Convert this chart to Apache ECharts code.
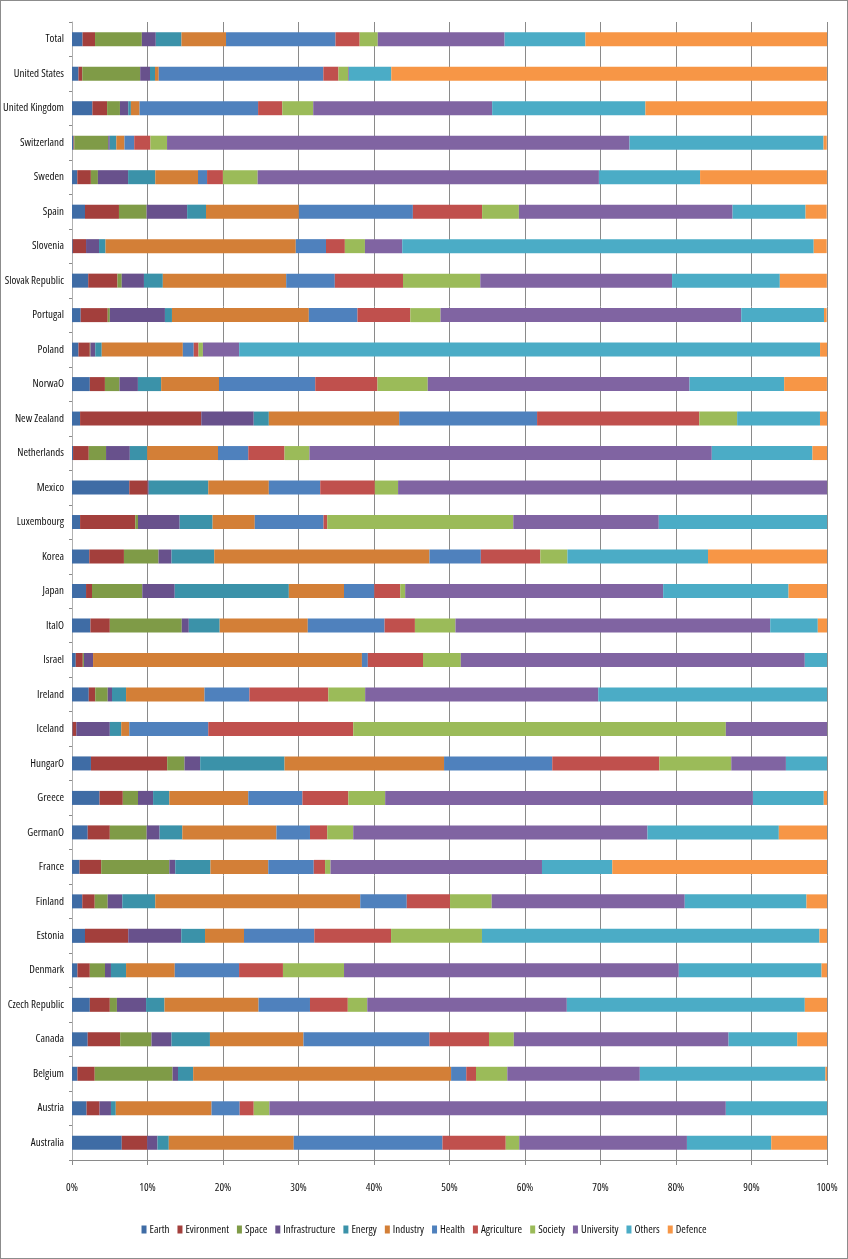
<!DOCTYPE html>
<html><head><meta charset="utf-8">
<script src="https://cdn.jsdelivr.net/npm/echarts@6/dist/echarts.min.js"></script>
<style>html,body{margin:0;padding:0;background:#fff}#c{width:846px;height:1257px;border:1px solid #8c8c8c}</style>
</head><body><div id="c"></div>
<script>
const categories = ["Total","United States","United Kingdom","Switzerland","Sweden","Spain","Slovenia","Slovak Republic","Portugal","Poland","NorwaO","New Zealand","Netherlands","Mexico","Luxembourg","Korea","Japan","ItalO","Israel","Ireland","Iceland","HungarO","Greece","GermanO","France","Finland","Estonia","Denmark","Czech Republic","Canada","Belgium","Austria","Australia"];
const tickLabels = ["0%","10%","20%","30%","40%","50%","60%","70%","80%","90%","100%"];
const seriesNames = ["Earth","Evironment","Space","Infrastructure","Energy","Industry","Health","Agriculture","Society","University","Others","Defence"];
const earth = [1.4,0.86,2.7,0.2,0.7,1.72,0.1,2.15,1.15,0.86,2.36,1.07,0.14,7.59,1.07,2.29,1.86,2.44,0.5,2.22,0.07,2.51,3.65,2.08,1.0,1.36,1.72,0.72,2.36,2.08,0.72,1.93,6.59];
const evironment = [1.65,0.5,1.95,0.1,1.8,4.5,1.76,3.87,3.58,1.5,2.0,16.05,2.08,2.44,7.31,4.59,0.79,2.57,0.93,0.86,0.5,10.1,3.08,2.93,2.87,1.65,5.73,1.64,2.65,4.3,2.29,1.72,3.37];
const space = [6.2,7.67,1.7,4.5,0.93,3.66,0,0.57,0.28,0.08,1.93,0,2.29,0,0.36,4.58,6.66,9.53,0.15,1.65,0,2.29,2.01,4.88,9.02,1.72,0,2.01,0.94,4.15,10.31,0,0];
const infrastructure = [1.85,1.3,1.1,0.2,4.0,5.37,1.72,2.94,7.3,0.64,2.44,6.95,3.15,0.14,5.52,1.72,4.3,0.93,1.21,0.57,4.44,2.08,2.0,1.71,0.79,1.93,7.02,0.79,3.86,2.65,0.72,1.51,1.36];
const energy = [3.4,0.66,0.35,0.87,3.6,2.5,0.86,2.5,0.93,0.86,3.08,2.0,2.3,7.88,4.36,5.66,15.11,4.09,0,1.86,1.51,11.17,2.15,3.01,4.66,4.37,3.15,2.0,2.44,5.09,2.01,0.64,1.5];
const industry = [5.9,0.5,1.15,1.08,5.66,12.3,25.2,16.34,18.13,10.74,7.66,17.27,9.38,8.02,5.59,28.51,7.31,11.67,35.61,10.39,1.07,21.13,10.46,12.47,7.66,27.15,5.16,6.45,12.46,12.39,34.16,12.68,16.55];
const health = [14.5,21.8,15.7,1.29,1.2,15.1,4.0,6.44,6.44,1.44,12.75,18.26,4.01,6.81,9.1,6.8,4.01,10.17,0.78,5.95,10.46,14.33,7.17,4.44,6.02,6.16,9.31,8.52,6.81,16.69,2.01,3.73,19.7];
const agriculture = [3.2,2.0,3.2,2.15,2.1,9.17,2.5,9.03,7.0,0.64,8.24,21.49,4.8,7.23,0.5,7.88,3.44,4.02,7.31,10.45,19.2,14.18,6.08,2.29,1.5,5.73,10.17,5.81,5.01,7.88,1.29,1.86,8.38];
const society = [2.4,1.3,4.1,2.2,4.6,4.87,2.66,10.24,4.0,0.58,6.66,5.01,3.3,3.08,24.64,3.59,0.65,5.37,5.01,4.88,49.35,9.53,4.88,3.44,0.72,5.52,12.04,8.09,2.58,3.29,4.15,2.08,1.79];
const university = [16.8,0.1,23.7,61.25,45.2,28.3,4.94,25.4,39.83,4.8,34.67,0,53.29,56.81,19.27,0,34.17,41.69,45.56,30.87,13.4,7.24,48.71,38.97,28.01,25.57,0,44.34,26.43,28.44,17.55,60.45,22.21];
const others = [10.7,5.6,20.3,25.7,13.4,9.67,54.5,14.27,10.96,76.94,12.54,10.97,13.33,0,22.28,18.62,16.61,6.3,2.94,30.3,0,5.44,9.38,17.4,9.31,16.12,44.7,18.91,31.52,9.1,24.58,13.4,11.17];
const defence = [32.2,57.7,24.1,0.43,16.8,2.8,1.72,6.23,0.36,0.93,5.66,0.93,1.93,0,0,15.76,5.09,1.22,0,0,0,0,0.43,6.38,28.44,2.72,1.0,0.72,2.94,3.94,0.21,0,7.38];

const seriesData = [earth,evironment,space,infrastructure,energy,industry,health,agriculture,society,university,others,defence];
const colors = ["#3F6CA5","#A33F3C","#7F9B47","#68518C","#3B92A9","#D37F37","#4F81BD","#C0504D","#9BBB59","#8064A2","#4BACC6","#F79646"];

const FONT = "'Open Sans','Liberation Sans',sans-serif";
const txt = {fontFamily:FONT, fontStyle:'normal', fontWeight:'condensed', fontSize:11, color:'#111'};

const chart = echarts.init(document.getElementById('c'), null, {renderer:'canvas'});
chart.setOption({
  animation:false,
  color: colors,
  grid:{left:71, right:20, top:21, bottom:98, containLabel:false, outerBoundsMode:'none'},
  legend:{
    data: seriesNames, bottom:18, left:'center', icon:'rect', itemWidth:5, itemHeight:8, itemGap:8,
    textStyle:Object.assign({}, txt, {padding:[0,0,0,-2]})
  },
  xAxis:{
    type:'value', min:0, max:100, interval:10,
    axisLabel:Object.assign({formatter:(v)=>tickLabels[Math.round(v/10)], margin:22}, txt),
    splitLine:{show:true, lineStyle:{color:'#8a8a8a', width:1}},
    axisLine:{show:true, lineStyle:{color:'#8a8a8a'}},
    axisTick:{show:true, length:5, lineStyle:{color:'#8a8a8a'}}
  },
  yAxis:{
    type:'category', data: categories, inverse:true,
    axisLabel:Object.assign({margin:8}, txt),
    axisLine:{show:true, lineStyle:{color:'#b0b0b0'}},
    axisTick:{show:true, length:3, lineStyle:{color:'#8a8a8a'}}
  },
  series: seriesNames.map((n,i)=>({
    name:n, type:'bar', stack:'all', data: seriesData[i], barWidth:14,
    itemStyle:{color:colors[i]}, emphasis:{disabled:true}
  }))
});
</script></body></html>
